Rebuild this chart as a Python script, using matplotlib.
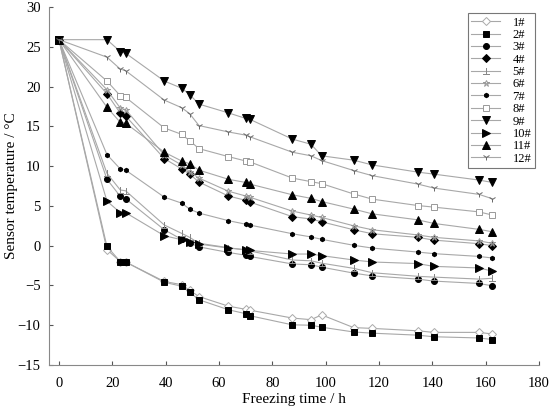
import matplotlib
matplotlib.use("Agg")
import matplotlib.pyplot as plt

plt.rcParams['font.family'] = ['Liberation Serif', 'DejaVu Serif']

times = [0, 18, 23, 25, 39.5, 46, 49, 52.5, 63.5, 70, 71.5, 87.5, 94.5, 98.5,
         110.5, 117.5, 134.5, 140.5, 157.5, 162.5]

s1 = [25.9, -0.5, -2.0, -2.05, -4.5, -4.9, -5.6, -6.4, -7.6, -8.0, -8.1, -9.1, -9.3, -8.7, -10.3, -10.4, -10.7, -10.9, -10.9, -11.1]
s2 = [25.9, -0.1, -2.0, -2.05, -4.6, -5.1, -5.85, -6.8, -8.05, -8.55, -8.8, -9.95, -10.0, -10.25, -10.85, -11.0, -11.25, -11.45, -11.6, -11.8]
s3 = [25.9, 8.35, 6.2, 5.9, 2.0, 0.8, 0.35, -0.15, -0.85, -1.2, -1.35, -2.3, -2.4, -2.7, -3.45, -3.8, -4.2, -4.45, -4.75, -5.05]
s4 = [25.9, 19.1, 16.65, 16.3, 10.95, 9.65, 9.0, 8.0, 6.25, 5.7, 5.5, 3.65, 3.35, 3.0, 2.0, 1.5, 1.05, 0.7, 0.25, 0.0]
s5 = [25.9, 9.1, 7.0, 6.9, 2.6, 1.55, 1.05, 0.3, -0.25, -0.55, -0.65, -1.8, -1.9, -2.2, -2.85, -3.4, -3.85, -3.95, -4.2, -4.1]
s6 = [25.9, 19.6, 17.3, 17.1, 11.4, 10.15, 9.3, 8.5, 6.85, 6.25, 6.1, 4.35, 3.85, 3.55, 2.5, 2.0, 1.35, 1.05, 0.6, 0.3]
s7 = [25.9, 11.45, 9.65, 9.5, 6.1, 5.35, 4.6, 4.1, 3.15, 2.7, 2.6, 1.5, 1.1, 0.8, 0.05, -0.3, -0.8, -1.0, -1.35, -1.55]
s8 = [25.9, 20.7, 18.85, 18.65, 14.8, 14.0, 13.2, 12.2, 11.2, 10.65, 10.55, 8.5, 8.05, 7.8, 6.5, 5.85, 5.05, 4.85, 4.25, 3.85]
s9 = [25.9, 25.9, 24.4, 24.2, 20.7, 19.8, 19.0, 17.8, 16.7, 16.0, 15.9, 13.4, 12.75, 11.3, 10.75, 10.15, 9.25, 9.0, 8.25, 7.95]
s10 = [25.9, 5.6, 4.15, 4.15, 1.25, 0.75, 0.5, 0.2, -0.3, -0.5, -0.6, -1.05, -1.05, -1.25, -1.8, -2.05, -2.25, -2.6, -2.8, -3.2]
s11 = [25.9, 17.4, 15.5, 15.4, 11.75, 10.65, 10.3, 9.5, 8.35, 7.95, 7.75, 6.4, 5.95, 5.55, 4.6, 4.0, 3.25, 2.8, 2.05, 1.75]
s12 = [25.9, 23.7, 22.2, 22.0, 18.3, 17.35, 16.6, 15.1, 14.3, 13.9, 13.7, 11.75, 11.3, 10.7, 9.45, 8.8, 7.75, 7.25, 6.45, 5.9]

labels = ['1#', '2#', '3#', '4#', '5#', '6#', '7#', '8#', '9#', '10#', '11#', '12#']
series = [s1, s2, s3, s4, s5, s6, s7, s8, s9, s10, s11, s12]

# marker, size, face colour, edge colour
styles = [
    ('D', 3.8, 'white', '#aaaaaa'),
    ('s', 4.5, 'black', 'black'),
    ('o', 4.3, 'black', 'black'),
    ('D', 3.8, 'black', 'black'),
    ('$\\perp$', 4.5, '#888888', '#888888'),
    ('*', 5.0, 'none', '#999999'),
    ('h', 3.2, 'black', 'black'),
    ('s', 4.5, 'white', '#999999'),
    ('v', 5.3, 'black', 'black'),
    ('>', 5.3, 'black', 'black'),
    ('^', 5.3, 'black', 'black'),
    ('1', 5.0, '#666666', '#666666'),
]

fig = plt.figure(figsize=(5.5, 4.15), dpi=100)
ax = fig.add_axes([0.089, 0.1205, 0.891, 0.8625])

for lab, s, (m, ms, fc, ec) in zip(labels, series, styles):
    ax.plot(times, s, color='#a8a8a8', lw=0.8, marker=m, markersize=ms,
            markerfacecolor=fc, markeredgecolor=ec, markeredgewidth=0.7,
            label=lab)

ax.set_xlim(-3.75, 180)
ax.set_ylim(-15, 30)
ax.set_xticks(range(0, 181, 20))
ax.set_yticks(range(-15, 31, 5))
ax.spines['top'].set_visible(False)
ax.spines['right'].set_visible(False)
for sp in ('left', 'bottom'):
    ax.spines[sp].set_color('#888888')
    ax.spines[sp].set_linewidth(0.8)
ax.tick_params(direction='in', length=3, width=0.8, color='#555555',
               labelsize=10.5, pad=9)
ax.tick_params(axis='y', pad=6)

ax.set_xlabel('Freezing time / h', fontsize=11, labelpad=2)
ax.set_ylabel('Sensor temperature / °C', fontsize=11, labelpad=0)

leg = ax.legend(loc='upper right', bbox_to_anchor=(0.992, 0.984),
                fontsize=9, frameon=True, fancybox=False, edgecolor='#555555',
                handlelength=2.3, labelspacing=0.03, borderpad=0.3,
                handletextpad=1.0, borderaxespad=0.0)
leg.get_frame().set_linewidth(0.8)

fig.savefig('out.png', dpi=100)
